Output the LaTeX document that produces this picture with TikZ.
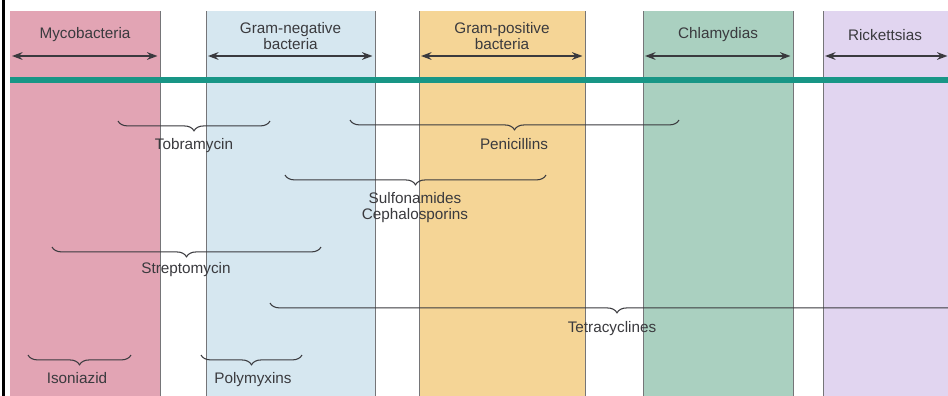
\documentclass[tikz,border=0pt]{standalone}
\usepackage{fontspec}
\setmainfont{Liberation Sans}
\usetikzlibrary{arrows.meta,decorations.pathreplacing}

\definecolor{mycopink}{RGB}{226,164,180}
\definecolor{negblue}{RGB}{214,231,240}
\definecolor{posorange}{RGB}{245,213,150}
\definecolor{chlamgreen}{RGB}{170,208,192}
\definecolor{rickviolet}{RGB}{225,213,240}
\definecolor{barteal}{RGB}{24,150,134}
\definecolor{inkgray}{RGB}{58,58,62}

\begin{document}
\begin{tikzpicture}[x=0.02cm,y=-0.02cm,
    every node/.style={font=\fontsize{8.7}{9.1}\selectfont, text=inkgray},
    group/.style={align=center},
    drug/.style={anchor=base},
    bandedge/.style={inkgray!70, line width=0.4pt},
    hdrarrow/.style={{Stealth[length=6pt,width=4.4pt]}-{Stealth[length=6pt,width=4.4pt]}, inkgray, line width=0.8pt},
    drugbrace/.style={decorate, decoration={brace, mirror, amplitude=5.6pt}, inkgray, line width=0.6pt}]
    \clip (0,0) rectangle (948,396);
    \fill[white] (0,0) rectangle (948,396);

    \foreach \name/\xl/\xr/\col in {myco/10/160/mycopink, neg/206/375/negblue, pos/419/585/posorange,
                                    chlam/643/793/chlamgreen, rick/823/950/rickviolet}
    {
        \fill[\col] (\xl,11) rectangle (\xr,396);
        \coordinate (\name-left) at (\xl+2,56);
        \coordinate (\name-right) at (\xr-2.5,56);
        \draw[hdrarrow] (\name-left) -- (\name-right);
    }
    \foreach \x in {160,206,375,419,585,643,793,823}
        \draw[bandedge] (\x,11) -- (\x,396);

    \draw[black, line width=0.07cm] (3.5,0) -- (3.5,396);
    \draw[barteal, line width=0.12cm] (10,80) -- (948,80);

    \node[group] (myco) at (85,35) {Mycobacteria};
    \node[group] (neg) at (290.5,36) {Gram-negative\\bacteria};
    \node[group] (pos) at (502,36) {Gram-positive\\bacteria};
    \node[group] (chlam) at (718,35) {Chlamydias};
    \node[group] (rick) at (885,35) {Rickettsias};

    \coordinate (tob-left) at (118,121);
    \coordinate (tob-right) at (270,121);
    \draw[drugbrace] (tob-left) -- (tob-right);
    \node[drug] (tob) at (194,149) {Tobramycin};

    \coordinate (pen-left) at (350,120);
    \coordinate (pen-right) at (679,120);
    \draw[drugbrace] (pen-left) -- (pen-right);
    \node[drug] (pen) at (514,149) {Penicillins};

    \coordinate (sulf-left) at (285,175);
    \coordinate (sulf-right) at (546,175);
    \draw[drugbrace] (sulf-left) -- (sulf-right);
    \node[group] (sulf) at (415,208) {Sulfonamides\\Cephalosporins};

    \coordinate (strep-left) at (52,247);
    \coordinate (strep-right) at (321,247);
    \draw[drugbrace] (strep-left) -- (strep-right);
    \node[drug] (strep) at (186,273) {Streptomycin};

    \coordinate (tetra-left) at (270,303);
    \coordinate (tetra-right) at (964,303);
    \draw[drugbrace] (tetra-left) -- (tetra-right);
    \node[drug] (tetra) at (612,332) {Tetracyclines};

    \coordinate (iso-left) at (28,355);
    \coordinate (iso-right) at (131,355);
    \draw[drugbrace] (iso-left) -- (iso-right);
    \node[drug] (iso) at (77,383) {Isoniazid};

    \coordinate (poly-left) at (201,355);
    \coordinate (poly-right) at (302,355);
    \draw[drugbrace] (poly-left) -- (poly-right);
    \node[drug] (poly) at (253,383) {Polymyxins};
\end{tikzpicture}
\end{document}
